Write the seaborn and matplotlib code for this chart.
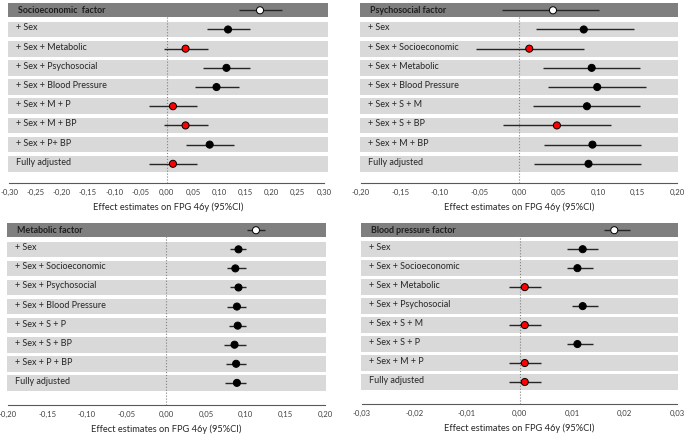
import numpy as np
import pandas as pd
import seaborn as sns
import matplotlib.pyplot as plt
from matplotlib.transforms import blended_transform_factory

sns.set_style("white")
plt.rcParams['font.family'] = ['Lato', 'DejaVu Sans']

# kinds: crude = white marker, sig = black, ns = red (CI crosses zero)

# Socioeconomic factor
se_labels = ['Socioeconomic  factor', '+ Sex', '+ Sex + Metabolic', '+ Sex + Psychosocial',
             '+ Sex + Blood Pressure', '+ Sex + M + P', '+ Sex + M + BP', '+ Sex + P+ BP', 'Fully adjusted']
se_est = [0.178, 0.117, 0.036, 0.114, 0.095, 0.012, 0.036, 0.082, 0.012]
se_lo = [0.137, 0.077, -0.006, 0.069, 0.054, -0.034, -0.006, 0.037, -0.034]
se_hi = [0.219, 0.158, 0.078, 0.158, 0.137, 0.058, 0.078, 0.128, 0.058]
se_kind = ['crude', 'sig', 'ns', 'sig', 'sig', 'ns', 'ns', 'sig', 'ns']

# Psychosocial factor
ps_labels = ['Psychosocial factor', '+ Sex', '+ Sex + Socioeconomic', '+ Sex + Metabolic',
             '+ Sex + Blood Pressure', '+ Sex + S + M', '+ Sex + S + BP', '+ Sex + M + BP', 'Fully adjusted']
ps_est = [0.043, 0.082, 0.013, 0.092, 0.099, 0.086, 0.048, 0.093, 0.088]
ps_lo = [-0.021, 0.021, -0.055, 0.031, 0.037, 0.018, -0.020, 0.032, 0.019]
ps_hi = [0.101, 0.145, 0.082, 0.153, 0.161, 0.153, 0.117, 0.155, 0.154]
ps_kind = ['crude', 'sig', 'ns', 'sig', 'sig', 'sig', 'ns', 'sig', 'sig']

# Metabolic factor
me_labels = ['Metabolic factor', '+ Sex', '+ Sex + Socioeconomic', '+ Sex + Psychosocial',
             '+ Sex + Blood Pressure', '+ Sex + S + P', '+ Sex + S + BP', '+ Sex + P + BP', 'Fully adjusted']
me_est = [0.113, 0.091, 0.087, 0.091, 0.089, 0.090, 0.086, 0.088, 0.089]
me_lo = [0.102, 0.080, 0.077, 0.080, 0.076, 0.079, 0.073, 0.075, 0.074]
me_hi = [0.124, 0.101, 0.100, 0.101, 0.101, 0.101, 0.100, 0.101, 0.100]
me_kind = ['crude', 'sig', 'sig', 'sig', 'sig', 'sig', 'sig', 'sig', 'sig']

# Blood pressure factor
bp_labels = ['Blood pressure factor', '+ Sex', '+ Sex + Socioeconomic', '+ Sex + Metabolic',
             '+ Sex + Psychosocial', '+ Sex + S + M', '+ Sex + S + P', '+ Sex + M + P', 'Fully adjusted']
bp_est = [0.018, 0.012, 0.011, 0.001, 0.012, 0.001, 0.011, 0.001, 0.001]
bp_lo = [0.016, 0.009, 0.009, -0.002, 0.010, -0.002, 0.009, -0.002, -0.002]
bp_hi = [0.021, 0.015, 0.014, 0.004, 0.015, 0.004, 0.014, 0.004, 0.004]
bp_kind = ['crude', 'sig', 'sig', 'ns', 'sig', 'ns', 'sig', 'ns', 'ns']

se_ticks = [-0.30, -0.25, -0.20, -0.15, -0.10, -0.05, 0.0, 0.05, 0.10, 0.15, 0.20, 0.25, 0.30]
ps_ticks = [-0.20, -0.15, -0.10, -0.05, 0.0, 0.05, 0.10, 0.15, 0.20]
me_ticks = ps_ticks
bp_ticks = [-0.03, -0.02, -0.01, 0.0, 0.01, 0.02, 0.03]

palette = {'crude': 'white', 'sig': 'black', 'ns': '#ff0000'}


def forest(ax, labels, est, lo, hi, kind, ticks, xlim, ybot):
    rows = np.arange(len(labels))
    ax.set_xlim(xlim)
    ax.set_ylim(ybot, -0.38)
    trans = blended_transform_factory(ax.transAxes, ax.transData)
    for r, lab in zip(rows, labels):
        if r == 0:
            ax.axhspan(r - 0.37, r + 0.37, color='#7f7f7f', lw=0, zorder=0)
            ax.text(0.03, r, lab, transform=trans, fontsize=6.4, fontweight='bold',
                    color='#1f1f1f', va='center', ha='left')
        else:
            ax.axhspan(r - 0.41, r + 0.41, color='#d9d9d9', lw=0, zorder=0)
            ax.text(0.025, r - 0.08, lab, transform=trans, fontsize=6.5,
                    color='#262626', va='center', ha='left')
    ax.axvline(0, ls=':', color='#808080', lw=0.8, zorder=1)
    ax.hlines(rows, lo, hi, color='#262626', lw=1.0, zorder=2)
    df = pd.DataFrame({'est': est, 'row': rows, 'kind': kind})
    sns.scatterplot(data=df, x='est', y='row', hue='kind', palette=palette, s=26,
                    edgecolor='black', linewidth=0.7, legend=False, ax=ax, zorder=4)
    sns.despine(ax=ax, left=True)
    ax.spines['bottom'].set_bounds(ticks[0], ticks[-1])
    ax.spines['bottom'].set_color('#595959')
    ax.spines['bottom'].set_linewidth(0.8)
    ax.set_xticks(ticks)
    ax.set_xticklabels([f"{t:.2f}".replace('.', ',') for t in ticks])
    ax.set_yticks([])
    ax.set_ylabel('')
    ax.tick_params(axis='x', direction='in', length=2.5, width=0.8, color='#595959',
                   labelsize=5.6, labelcolor='#404040', pad=4)
    ax.set_xlabel('Effect estimates on FPG 46y (95%CI)', fontsize=6.7, labelpad=5, color='#262626')


W, H = 685, 443
fig = plt.figure(figsize=(W / 100, H / 100), dpi=100)


def add_ax(left, right, top, bottom):
    return fig.add_axes([left / W, (H - bottom) / H, (right - left) / W, (bottom - top) / H])


ax1 = add_ax(8, 328, 3, 183)
ax2 = add_ax(360, 678, 3, 183)
ax3 = add_ax(7, 326, 223, 405)
ax4 = add_ax(361, 678, 223, 404)

forest(ax1, se_labels, se_est, se_lo, se_hi, se_kind, se_ticks, (-0.3025, 0.3076), 9.0)
forest(ax2, ps_labels, ps_est, ps_lo, ps_hi, ps_kind, ps_ticks, (-0.2013, 0.2013), 9.0)
forest(ax3, me_labels, me_est, me_lo, me_hi, me_kind, me_ticks, (-0.2008, 0.2013), 9.16)
forest(ax4, bp_labels, bp_est, bp_lo, bp_hi, bp_kind, bp_ticks, (-0.0301, 0.0301), 9.16)

fig.savefig('out.png', dpi=100)
